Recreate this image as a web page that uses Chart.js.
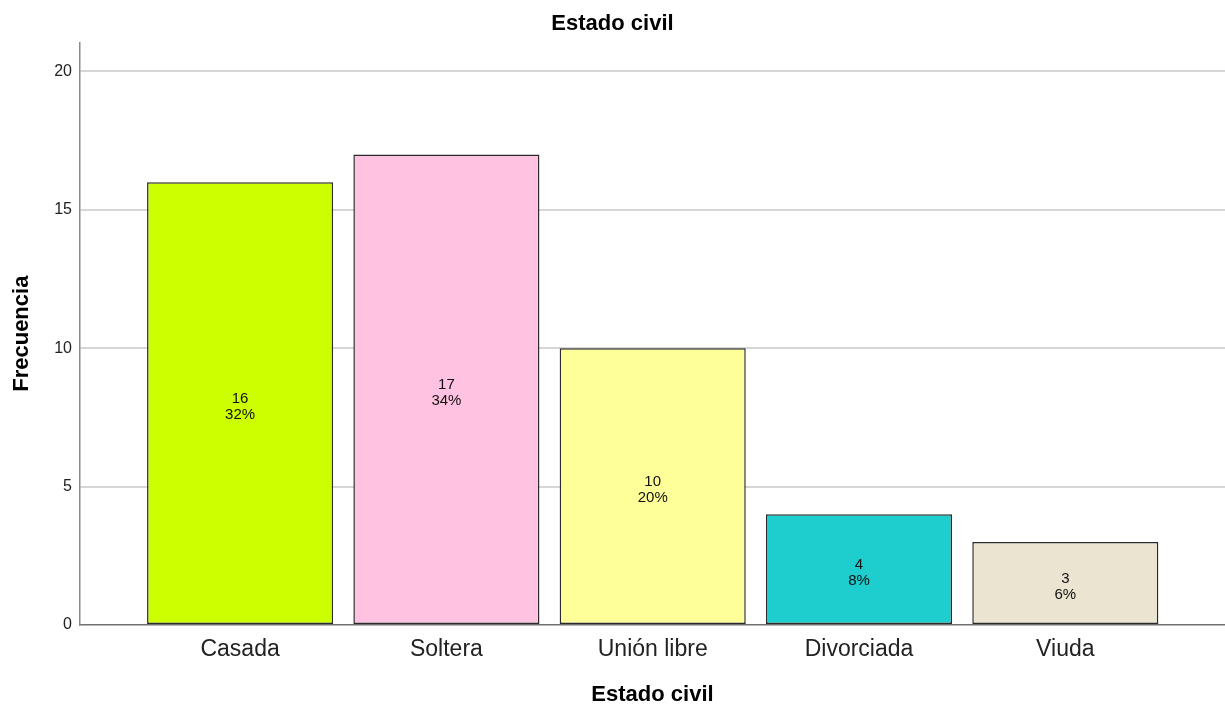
<!DOCTYPE html>
<html lang="es">
<head>
<meta charset="UTF-8">
<title>Estado civil</title>
<script src="https://cdn.jsdelivr.net/npm/chart.js"></script>
<style>
  body { margin: 0; background: #fff; }
  #wrap { width: 1225px; height: 706px; }
</style>
</head>
<body>
<div id="wrap"><canvas id="chart" width="1225" height="706"></canvas></div>
<script>
// datos
const categories = ['Casada', 'Soltera', 'Unión libre', 'Divorciada', 'Viuda'];
const counts = [16, 17, 10, 4, 3];
const barColors = ['#CCFF00', '#FFC2E0', '#FFFF99', '#1ECDCD', '#EAE4D0'];
const yTicks = [0, 5, 10, 15, 20];

const total = counts.reduce((a, b) => a + b, 0);
const FONT = "Arial, 'Liberation Sans', sans-serif";

// etiquetas dentro de las barras: frecuencia y porcentaje
const barLabels = {
  id: 'barLabels',
  afterDatasetsDraw(chart) {
    const ctx = chart.ctx;
    const meta = chart.getDatasetMeta(0);
    ctx.save();
    ctx.font = '15px ' + FONT;
    ctx.fillStyle = '#111';
    ctx.textAlign = 'center';
    ctx.textBaseline = 'middle';
    meta.data.forEach((bar, i) => {
      const mid = (bar.y + bar.base) / 2;
      const pct = Math.round(counts[i] / total * 100);
      ctx.fillText(String(counts[i]), bar.x, mid - 4);
      ctx.fillText(pct + '%', bar.x, mid + 12);
    });
    ctx.restore();
  }
};

new Chart(document.getElementById('chart'), {
  type: 'bar',
  data: {
    datasets: [{
      data: counts.map((v, i) => ({ x: i, y: v })),
      backgroundColor: barColors,
      borderColor: '#2b2b2b',
      borderWidth: 1.5,
      borderSkipped: false,
      categoryPercentage: 1,
      barPercentage: 0.902
    }]
  },
  plugins: [barLabels],
  options: {
    responsive: false,
    animation: false,
    layout: { padding: 0 },
    plugins: {
      legend: { display: false },
      tooltip: { enabled: false },
      title: {
        display: true,
        text: 'Estado civil',
        color: '#000',
        font: { family: FONT, size: 22, weight: 'bold', lineHeight: 1.2 },
        padding: { top: 11, bottom: 5 }
      }
    },
    scales: {
      x: {
        type: 'linear',
        offset: false,
        min: -0.776,
        max: 4.774,
        afterBuildTicks(scale) {
          scale.ticks = categories.map((c, i) => ({ value: i }));
        },
        afterFit(scale) { scale.height = 81; },
        grid: { display: false, drawTicks: false, offset: false },
        border: { display: true, color: '#707070', width: 1.5 },
        ticks: {
          padding: 11,
          color: '#222',
          font: { family: FONT, size: 23 },
          callback: (v) => categories[v] ?? ''
        },
        title: {
          display: true,
          text: 'Estado civil',
          color: '#000',
          font: { family: FONT, size: 22, weight: 'bold', lineHeight: 1 },
          padding: { top: 4, bottom: 0 }
        }
      },
      y: {
        min: 0,
        max: 21.05,
        afterBuildTicks(scale) {
          scale.ticks = yTicks.map(v => ({ value: v }));
        },
        afterFit(scale) { scale.width = 80; },
        grid: {
          drawTicks: false,
          lineWidth: 2,
          color: (c) => c.tick && c.tick.value === 0 ? 'rgba(0,0,0,0)' : '#d6d6d6'
        },
        border: { display: true, color: '#8a8a8a', width: 1.5 },
        ticks: {
          padding: 8,
          color: '#222',
          font: { family: FONT, size: 16 }
        },
        title: {
          display: true,
          text: 'Frecuencia',
          color: '#000',
          font: { family: FONT, size: 22, weight: 'bold', lineHeight: 1.2 },
          padding: { top: 9, bottom: 0 }
        }
      }
    }
  }
});
</script>
</body>
</html>
